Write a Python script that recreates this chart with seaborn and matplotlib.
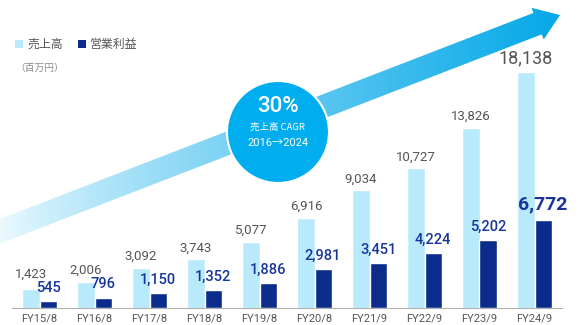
import numpy as np
import pandas as pd
import matplotlib
matplotlib.use("Agg")
import matplotlib.pyplot as plt
from matplotlib.patches import Polygon, Circle, Rectangle
import seaborn as sns

# ---- data ----
periods = ["FY15/8", "FY16/8", "FY17/8", "FY18/8", "FY19/8",
           "FY20/8", "FY21/9", "FY22/9", "FY23/9", "FY24/9"]
sales = [1423, 2006, 3092, 3743, 5077, 6916, 9034, 10727, 13826, 18138]
op_income = [545, 796, 1150, 1352, 1886, 2981, 3451, 4224, 5202, 6772]
series_names = ["売上高", "営業利益"]
unit_label = "（百万円）"
cagr_value = "30%"
cagr_label = "売上高 CAGR"
cagr_span = "2016→2024"

LIGHT = "#b9eafc"
DARK = "#0c2c8c"
DARK_TXT = "#17359a"
GRAY_TXT = "#555555"

sns.set_theme(style="white")
plt.rcParams["font.family"] = ["Roboto", "Noto Sans CJK JP", "DejaVu Sans"]

W, H = 581, 325
fig = plt.figure(figsize=(W / 100, H / 100), dpi=100)
fig.patch.set_facecolor("white")

# ---- decoration overlay (pixel coordinates) ----
ov = fig.add_axes([0, 0, 1, 1], zorder=0)
ov.set_xlim(0, W)
ov.set_ylim(H, 0)
ov.axis("off")

# gradient arrow
P0 = np.array([-20.0, 239.0])
T = np.array([560.0, 15.0])
u = (T - P0) / np.linalg.norm(T - P0)
n = np.array([-u[1], u[0]])
if n[1] < 0:
    n = -n
h, hl, hw = 11.5, 24.0, 17.0
B = T - hl * u
poly = np.array([P0 + h * n, B + h * n, B + hw * n, T, B - hw * n, B - h * n, P0 - h * n])
arrow = Polygon(poly, closed=True, fc="none", ec="none")
ov.add_patch(arrow)
xs = np.linspace(0, W, 600)
t = np.clip(xs / 560.0, 0, 1) ** 0.8
c0 = np.array([0.93, 0.98, 1.0])
c1 = np.array([0.02, 0.66, 0.91])
cols = c0[None, :] * (1 - t[:, None]) + c1[None, :] * t[:, None]
img = np.ones((2, len(xs), 4))
img[:, :, :3] = cols[None, :, :]
grad = ov.imshow(img, extent=[0, W, H, 0], aspect="auto", interpolation="bilinear", zorder=1)
grad.set_clip_path(arrow)

# CAGR circle
circ = Circle((278, 132), 51, fc="#00aeef", ec="white", lw=1.5, zorder=3)
ov.add_patch(circ)
ov.text(278, 107, cagr_value, color="white", fontsize=16, fontweight="medium",
        ha="center", va="center", zorder=4)
ov.text(278, 127, cagr_label, color="white", fontsize=6.8,
        family=["Noto Sans CJK JP", "DejaVu Sans"], ha="center", va="center", zorder=4)
ov.text(278, 143, cagr_span, color="white", fontsize=8,
        family=["Roboto", "Noto Sans CJK JP", "DejaVu Sans"], ha="center", va="center", zorder=4)

# legend
ov.add_patch(Rectangle((15, 40), 8, 8, fc=LIGHT, ec="none"))
ov.text(27, 44, series_names[0], color=GRAY_TXT, fontsize=8.6,
        family=["Noto Sans CJK JP"], ha="left", va="center")
ov.add_patch(Rectangle((78, 40), 8, 8, fc=DARK, ec="none"))
ov.text(90, 44, series_names[1], color=GRAY_TXT, fontsize=8.6,
        family=["Noto Sans CJK JP"], ha="left", va="center")
ov.text(15, 68, unit_label, color="#8a8a8a", fontsize=7,
        family=["Noto Sans CJK JP"], ha="left", va="center")

# ---- bar chart ----
base_y = 308
ax_left, ax_right = 12, 562
ax = fig.add_axes([ax_left / W, (H - base_y) / H, (ax_right - ax_left) / W, base_y / H], zorder=1)
ax.patch.set_alpha(0)

df = pd.DataFrame({
    "period": periods * 2,
    "series": [series_names[0]] * len(periods) + [series_names[1]] * len(periods),
    "value": sales + op_income,
})
sns.barplot(data=df, x="period", y="value", hue="series", hue_order=series_names,
            palette=[LIGHT, DARK], width=0.62, gap=0, saturation=1, legend=False,
            ax=ax, order=periods)

ymax = base_y / (236.0 / 18138.0)
ax.set_ylim(0, ymax)
ax.set_xlim(-0.5, len(periods) - 0.5)
ax.set_xlabel("")
ax.set_ylabel("")
ax.set_yticks([])
for s in ["top", "left", "right"]:
    ax.spines[s].set_visible(False)
ax.spines["bottom"].set_color("#b0b0b0")
ax.spines["bottom"].set_linewidth(0.8)
ax.set_xticks(range(len(periods)))
ax.set_xticklabels(periods, fontsize=8, color=GRAY_TXT)
ax.set_xticks(np.arange(-0.5, len(periods)), minor=True)
ax.tick_params(axis="x", which="major", length=0, pad=4)
ax.tick_params(axis="x", which="minor", length=3, color="#b0b0b0", width=0.8, direction="out")

light_txt = ax.bar_label(ax.containers[0], labels=[f"{v:,}" for v in sales],
                         padding=3.6, fontsize=9.5, color=GRAY_TXT)
dark_txt = ax.bar_label(ax.containers[1], labels=[f"{v:,}" for v in op_income],
                        padding=4.5, fontsize=10.5, color=DARK_TXT, fontweight="medium")
# first sales label sits a little higher so it clears the operating-income label
light_txt[0].set_y(light_txt[0].get_position()[1])
light_txt[0].xyann = (light_txt[0].xyann[0], light_txt[0].xyann[1] + 2.5)
light_txt[-1].set_fontsize(13)
dark_txt[-1].set_fontsize(14)
dark_txt[-1].set_fontweight("bold")

fig.savefig("out.png", dpi=100)
